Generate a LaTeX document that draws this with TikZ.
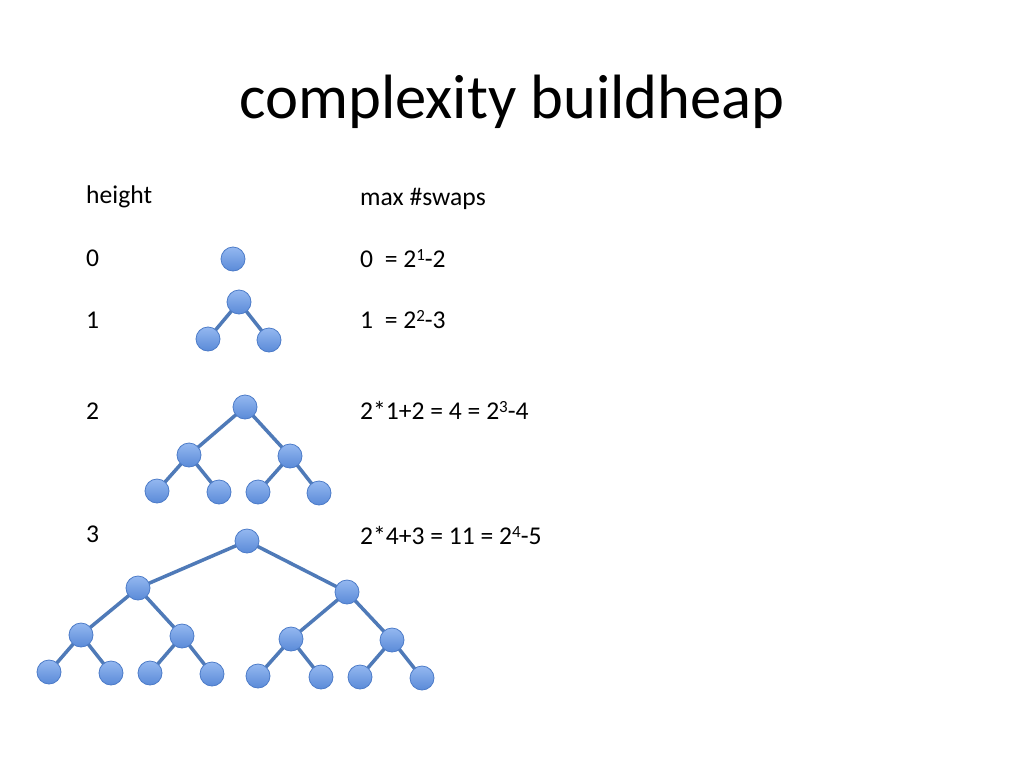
\documentclass[tikz,border=0pt]{standalone}
\usepackage{fontspec}
\setmainfont{Carlito}
\usetikzlibrary{backgrounds}
\definecolor{edgec}{HTML}{4F7AB8}
\definecolor{balltop}{HTML}{94B8F0}
\definecolor{ballbot}{HTML}{5A8AD8}
\definecolor{balldraw}{HTML}{4C7BC8}
\newcommand{\mysup}[1]{\raisebox{7pt}{\fontsize{17}{17}\selectfont #1}}
\tikzset{
  ball/.style={circle, minimum size=24pt, inner sep=0pt, top color=balltop, bottom color=ballbot, draw=balldraw, line width=0.8pt},
  edge/.style={draw=edgec, line width=3.5pt},
  body/.style={anchor=base west, inner sep=0pt, font=\fontsize{25.6}{30}\selectfont},
  ttl/.style={anchor=base, inner sep=0pt, font=\fontsize{62.6}{70}\selectfont}
}
\begin{document}
\begin{tikzpicture}[x=1pt,y=-1pt]
\useasboundingbox (0,0) rectangle (1024,768);
\node[ttl] (title) at (512,118) {complexity buildheap};
\node[body] (hh) at (86,203) {height};
\node[body] (h0) at (86,266) {0};
\node[body] (h1) at (86,328) {1};
\node[body] (h2) at (86,419) {2};
\node[body] (h3) at (86,542) {3};
\node[body] (sw) at (360,205) {max \#swaps};
\node[body] (s0) at (360,267) {0\ \ = 2\mysup{1}-2};
\node[body] (s1) at (360,328) {1\ \ = 2\mysup{2}-3};
\node[body] (s2) at (360,419) {2*1+2 = 4 = 2\mysup{3}-4};
\node[body] (s3) at (360,544) {2*4+3 = 11 = 2\mysup{4}-5};
% height 0
\node[ball] (a0) at (233,259) {};
% height 1
\node[ball] (b0) at (239,302) {};
\node[ball] (b1) at (208,339) {};
\node[ball] (b2) at (269,340) {};
% height 2
\node[ball] (c0) at (245,407) {};
\node[ball] (c1) at (189,455) {};
\node[ball] (c2) at (290,456) {};
\node[ball] (c3) at (157,491) {};
\node[ball] (c4) at (219,492) {};
\node[ball] (c5) at (258,492) {};
\node[ball] (c6) at (319,493) {};
% height 3
\node[ball] (d0) at (247,541) {};
\node[ball] (d1) at (138,588) {};
\node[ball] (d2) at (347,592) {};
\node[ball] (d3) at (81,635) {};
\node[ball] (d4) at (182,636) {};
\node[ball] (d5) at (291,639) {};
\node[ball] (d6) at (392,640) {};
\node[ball] (d7) at (49,672) {};
\node[ball] (d8) at (111,673) {};
\node[ball] (d9) at (150,673) {};
\node[ball] (d10) at (212,674) {};
\node[ball] (d11) at (258,676) {};
\node[ball] (d12) at (321,677) {};
\node[ball] (d13) at (360,677) {};
\node[ball] (d14) at (422,678) {};
\begin{scope}[on background layer]
\fill[white] (0,0) rectangle (1024,768);
\draw[edge] (b0.center) -- (b1.center) (b0.center) -- (b2.center);
\draw[edge] (c0.center) -- (c1.center) (c0.center) -- (c2.center)
  (c1.center) -- (c3.center) (c1.center) -- (c4.center)
  (c2.center) -- (c5.center) (c2.center) -- (c6.center);
\draw[edge] (d0.center) -- (d1.center) (d0.center) -- (d2.center)
  (d1.center) -- (d3.center) (d1.center) -- (d4.center)
  (d2.center) -- (d5.center) (d2.center) -- (d6.center)
  (d3.center) -- (d7.center) (d3.center) -- (d8.center)
  (d4.center) -- (d9.center) (d4.center) -- (d10.center)
  (d5.center) -- (d11.center) (d5.center) -- (d12.center)
  (d6.center) -- (d13.center) (d6.center) -- (d14.center);
\end{scope}
\end{tikzpicture}
\end{document}
